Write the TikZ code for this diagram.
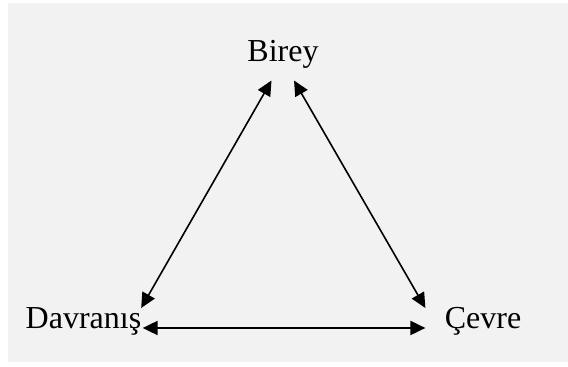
\documentclass[tikz,border=0pt]{standalone}
\usepackage{fontspec}
\setmainfont{Liberation Serif}
\usetikzlibrary{arrows.meta, calc}

\definecolor{panel}{gray}{0.95}

\begin{document}
\begin{tikzpicture}[
    x=0.5pt, y=-0.5pt,
    term/.style={inner sep=0pt, anchor=base, font=\fontsize{16}{19}\selectfont},
    link/.style={{Triangle[length=7.5pt,width=7pt]}-{Triangle[length=7.5pt,width=7pt]}, line width=0.8pt},
]
    \useasboundingbox (0,0) rectangle (568,367);
    \fill [panel] (7.5,3.5) rectangle (568,362);

    \node [term] (birey) at (283,62) {Birey};
    \node [term] (davranis) at (83.5,329) {Davranış};
    \node [term] (cevre) at (483,329) {Çevre};

    \draw [link] ($(birey.base)+(-11.5,18.5)$) -- ($(davranis.base east)+(-0.5,-21)$);
    \draw [link] ($(birey.base)+(11,18.5)$) -- ($(cevre.base west)+(-19,-21)$);
    \draw [link, line width=1pt] ($(davranis.base east)+(1,-1)$) -- ($(cevre.base west)+(-19,-1)$);
\end{tikzpicture}
\end{document}
